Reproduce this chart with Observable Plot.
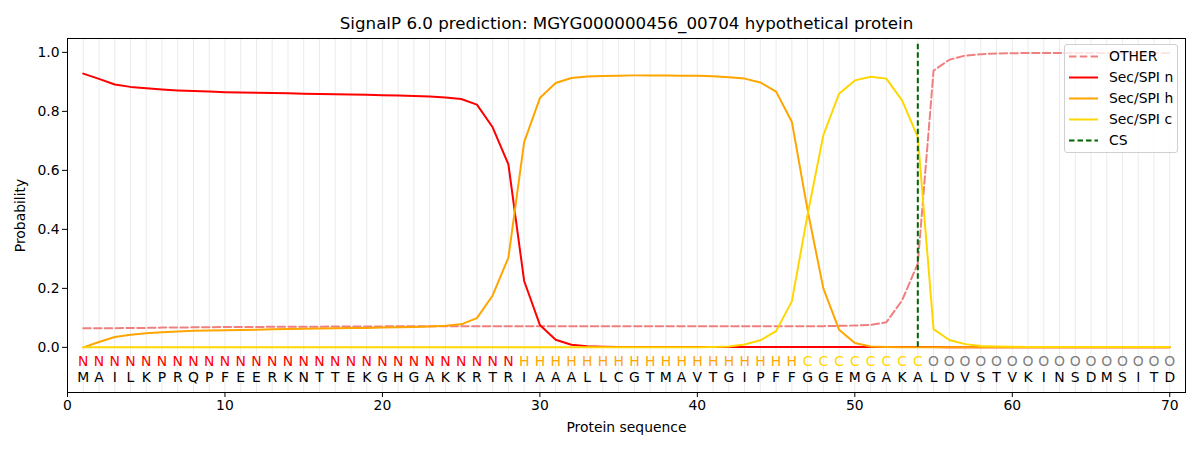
<!DOCTYPE html>
<html>
<head>
<meta charset="utf-8">
<script src="https://cdn.jsdelivr.net/npm/d3@7"></script>
<script src="https://cdn.jsdelivr.net/npm/@observablehq/plot@0.6"></script>
<style>
  html, body { margin: 0; padding: 0; background: #fff; }
  #wrap { position: relative; width: 1200px; height: 450px; font-family: "DejaVu Sans", sans-serif; }
  #legend { position: absolute; left: 1064px; top: 44px; width: 114px; height: 109px;
    border: 1px solid #d0d0d0; border-radius: 3px; background: rgba(255,255,255,0.8); box-sizing: border-box; }
</style>
</head>
<body>
<div id="wrap"></div>
<script>
const title = "SignalP 6.0 prediction: MGYG000000456_00704 hypothetical protein";
const sequence = "MAILKPRQPFEERKNTTEKGHGAKKRTRIAAALLCGTMAVTGIPFFGGEMGAKALDVSTVKINSDMSITD".split("");
const states = "NNNNNNNNNNNNNNNNNNNNNNNNNNNNHHHHHHHHHHHHHHHHHHCCCCCCCCOOOOOOOOOOOOOOOO".split("");
const csPosition = 54;

const other = [0.065,0.065,0.065,0.066,0.066,0.067,0.067,0.068,0.068,0.069,
  0.069,0.069,0.070,0.070,0.070,0.070,0.071,0.071,0.071,0.071,
  0.072,0.072,0.072,0.072,0.072,0.072,0.072,0.072,0.072,0.072,
  0.072,0.072,0.072,0.072,0.072,0.072,0.072,0.072,0.072,0.072,
  0.072,0.072,0.072,0.072,0.072,0.072,0.072,0.072,0.073,0.074,
  0.076,0.085,0.159,0.284,0.938,0.975,0.989,0.994,0.996,0.997,
  0.998,0.998,0.998,0.998,0.998,0.998,0.998,0.998,0.998,0.998];
const secN = [0.928,0.910,0.891,0.883,0.878,0.874,0.871,0.869,0.867,0.865,
  0.864,0.863,0.862,0.861,0.860,0.859,0.858,0.857,0.856,0.855,
  0.854,0.852,0.850,0.847,0.842,0.823,0.746,0.620,0.225,0.076,
  0.026,0.009,0.004,0.002,0.001,0.001,0.001,0.001,0.001,0.001,
  0.001,0.001,0.001,0.001,0.001,0.001,0.001,0.001,0.001,0.001,
  0.001,0.001,0.001,0.001,0.001,0.000,0.000,0.000,0.000,0.000,
  0.000,0.000,0.000,0.000,0.000,0.000,0.000,0.000,0.000,0.000];
const secH = [0.000,0.018,0.035,0.043,0.048,0.051,0.054,0.056,0.057,0.058,
  0.059,0.060,0.061,0.062,0.063,0.064,0.065,0.066,0.066,0.067,
  0.068,0.069,0.071,0.073,0.078,0.099,0.176,0.304,0.696,0.845,
  0.896,0.913,0.918,0.920,0.921,0.922,0.922,0.922,0.921,0.921,
  0.919,0.916,0.911,0.898,0.867,0.765,0.465,0.200,0.060,0.015,
  0.003,0.001,0.000,0.000,0.000,0.000,0.000,0.000,0.000,0.000,
  0.000,0.000,0.000,0.000,0.000,0.000,0.000,0.000,0.000,0.000];
const secC = [0.000,0.000,0.000,0.000,0.000,0.000,0.000,0.000,0.000,0.000,
  0.000,0.000,0.000,0.000,0.000,0.000,0.000,0.000,0.000,0.000,
  0.000,0.000,0.000,0.000,0.000,0.000,0.000,0.000,0.000,0.000,
  0.000,0.000,0.000,0.000,0.000,0.000,0.000,0.000,0.000,0.000,
  0.001,0.003,0.010,0.024,0.055,0.156,0.450,0.719,0.860,0.905,
  0.917,0.911,0.837,0.713,0.062,0.025,0.011,0.005,0.003,0.002,
  0.001,0.001,0.001,0.001,0.001,0.001,0.001,0.001,0.001,0.001];

const xTicks = [0,10,20,30,40,50,60,70];
const yTicks = [0,0.2,0.4,0.6,0.8,1.0];

const series = [
  {name: "OTHER", values: other, color: "#f08080", dash: "7.5,3.3"},
  {name: "Sec/SPI n", values: secN, color: "#ff0000", dash: null},
  {name: "Sec/SPI h", values: secH, color: "#ffa500", dash: null},
  {name: "Sec/SPI c", values: secC, color: "#ffd700", dash: null}
];
const stateColor = {N: "#ff0000", H: "#ffa500", C: "#ffd700", O: "#808080"};
const positions = sequence.map((_, i) => i + 1);

const lineMarks = series.map(s => Plot.line(s.values, {
  x: (d, i) => i + 1, y: d => d, stroke: s.color, strokeWidth: 2,
  strokeDasharray: s.dash || undefined
}));

const chart = Plot.plot({
  width: 1200, height: 450,
  marginLeft: 67, marginRight: 15, marginTop: 38, marginBottom: 58,
  style: {fontFamily: "DejaVu Sans, sans-serif", fontSize: "13.9px", color: "#000", background: "#fff"},
  x: {domain: [0, 71]},
  y: {domain: [-0.153, 1.047]},
  marks: [
    Plot.ruleX(positions, {x: d => d, stroke: "#ebebeb", strokeWidth: 1}),
    ...lineMarks,
    Plot.ruleX([csPosition], {x: d => d, y1: 0, y2: 1.035, stroke: "#006400", strokeWidth: 2, strokeDasharray: "5.5,3"}),
    Plot.text(states, {x: (d, i) => i + 1, frameAnchor: "bottom", dy: -31, lineAnchor: "middle",
      text: d => d, fill: d => stateColor[d], fontSize: 13.9}),
    Plot.text(sequence, {x: (d, i) => i + 1, frameAnchor: "bottom", dy: -15, lineAnchor: "middle",
      text: d => d, fill: "#000", fontSize: 13.9}),
    Plot.frame({stroke: "#000", strokeWidth: 1}),
    Plot.axisX({ticks: xTicks, tickSize: 5, tickPadding: 3, tickFormat: d => String(d),
      label: "Protein sequence", labelAnchor: "center", labelArrow: "none", labelOffset: 39}),
    Plot.axisY({ticks: yTicks, tickSize: 5, tickPadding: 3, tickFormat: d => d.toFixed(1),
      label: "Probability", labelAnchor: "center", labelArrow: "none", labelOffset: 52}),
    Plot.text([title], {frameAnchor: "top", dy: -15, lineAnchor: "middle", text: d => d, fontSize: 16.7, fill: "#000"})
  ]
});

const wrap = document.getElementById("wrap");
wrap.appendChild(chart);

// legend overlay
const legendItems = [...series.map(s => ({name: s.name, color: s.color, dash: s.dash})),
  {name: "CS", color: "#006400", dash: "5.5,3"}];
const leg = document.createElement("div");
leg.id = "legend";
const ns = "http://www.w3.org/2000/svg";
const lsvg = document.createElementNS(ns, "svg");
lsvg.setAttribute("width", 112); lsvg.setAttribute("height", 107);
legendItems.forEach((it, i) => {
  const cy = 11.5 + i * 21;
  const ln = document.createElementNS(ns, "line");
  ln.setAttribute("x1", 4); ln.setAttribute("x2", 33);
  ln.setAttribute("y1", cy); ln.setAttribute("y2", cy);
  ln.setAttribute("stroke", it.color); ln.setAttribute("stroke-width", 2);
  if (it.dash) ln.setAttribute("stroke-dasharray", it.dash);
  lsvg.appendChild(ln);
  const tx = document.createElementNS(ns, "text");
  tx.setAttribute("x", 44); tx.setAttribute("y", cy);
  tx.setAttribute("dy", "0.35em");
  tx.setAttribute("font-size", "13.9px");
  tx.setAttribute("font-family", "DejaVu Sans, sans-serif");
  tx.textContent = it.name;
  lsvg.appendChild(tx);
});
leg.appendChild(lsvg);
wrap.appendChild(leg);
</script>
</body>
</html>
